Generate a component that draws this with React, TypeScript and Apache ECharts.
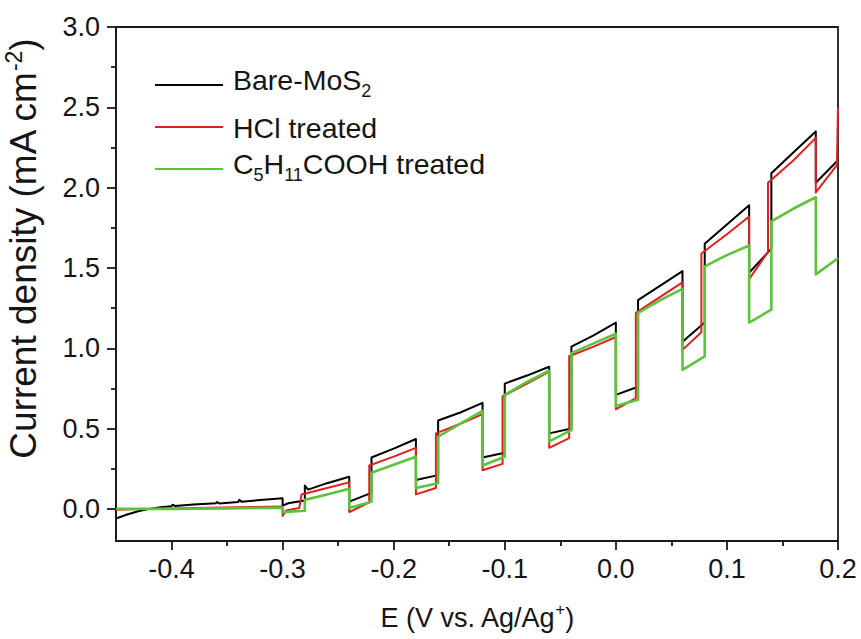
import { useEffect, useRef } from 'react';
import * as echarts from 'echarts';

// [E (V vs Ag/Ag+), current density (mA cm^-2)]
const bareMoS2: [number, number][] = [
  [-0.45, -0.06], [-0.44, -0.035], [-0.43, -0.015], [-0.42, 0.0], [-0.41, 0.01], [-0.4, 0.017],
  [-0.399, 0.026], [-0.397, 0.018], [-0.38, 0.027], [-0.36, 0.035], [-0.359, 0.043], [-0.357, 0.034],
  [-0.34, 0.043], [-0.339, 0.056], [-0.337, 0.045], [-0.32, 0.055], [-0.3, 0.066],
  [-0.3, 0.02], [-0.295, 0.035], [-0.28, 0.052],
  [-0.28, 0.145], [-0.277, 0.12], [-0.26, 0.16], [-0.24, 0.2],
  [-0.24, 0.045], [-0.22, 0.1],
  [-0.22, 0.32], [-0.2, 0.375], [-0.18, 0.435],
  [-0.18, 0.18], [-0.16, 0.21],
  [-0.16, 0.55], [-0.14, 0.6], [-0.12, 0.66],
  [-0.12, 0.32], [-0.1, 0.35],
  [-0.1, 0.78], [-0.08, 0.83], [-0.06, 0.885],
  [-0.06, 0.47], [-0.04, 0.5],
  [-0.04, 1.01], [-0.02, 1.08], [0.0, 1.16],
  [0.0, 0.71], [0.02, 0.76],
  [0.02, 1.3], [0.04, 1.39], [0.06, 1.48],
  [0.06, 1.04], [0.08, 1.16],
  [0.08, 1.65], [0.1, 1.77], [0.12, 1.89],
  [0.12, 1.47], [0.14, 1.62],
  [0.14, 2.09], [0.16, 2.22], [0.18, 2.35],
  [0.18, 2.03], [0.2, 2.17],
];

const hclTreated: [number, number][] = [
  [-0.45, -0.005], [-0.42, 0.0], [-0.38, 0.005], [-0.34, 0.01], [-0.3, 0.015],
  [-0.3, -0.045], [-0.297, -0.01], [-0.285, 0.005],
  [-0.283, 0.09], [-0.26, 0.13], [-0.24, 0.165],
  [-0.24, -0.02], [-0.222, 0.04],
  [-0.222, 0.27], [-0.2, 0.325], [-0.18, 0.38],
  [-0.18, 0.09], [-0.162, 0.13],
  [-0.162, 0.47], [-0.14, 0.53], [-0.12, 0.59],
  [-0.12, 0.24], [-0.102, 0.28],
  [-0.102, 0.7], [-0.08, 0.78], [-0.06, 0.855],
  [-0.06, 0.38], [-0.042, 0.44],
  [-0.042, 0.95], [-0.02, 1.01], [0.0, 1.07],
  [0.0, 0.62], [0.018, 0.69],
  [0.018, 1.22], [0.04, 1.32], [0.06, 1.41],
  [0.06, 0.99], [0.077, 1.1],
  [0.077, 1.59], [0.1, 1.71], [0.12, 1.82],
  [0.12, 1.43], [0.137, 1.6],
  [0.137, 2.03], [0.16, 2.17], [0.18, 2.31],
  [0.18, 1.97], [0.199, 2.14], [0.2, 2.5],
];

const c5h11coohTreated: [number, number][] = [
  [-0.45, 0.0], [-0.4, 0.0], [-0.35, 0.003], [-0.3, 0.008],
  [-0.3, -0.02], [-0.28, -0.012],
  [-0.28, 0.056], [-0.26, 0.09], [-0.24, 0.125],
  [-0.24, 0.005], [-0.22, 0.045],
  [-0.22, 0.225], [-0.2, 0.275], [-0.18, 0.325],
  [-0.18, 0.13], [-0.16, 0.16],
  [-0.16, 0.45], [-0.14, 0.53], [-0.12, 0.61],
  [-0.12, 0.27], [-0.1, 0.325],
  [-0.1, 0.71], [-0.08, 0.79], [-0.06, 0.86],
  [-0.06, 0.42], [-0.04, 0.49],
  [-0.04, 0.97], [-0.02, 1.03], [0.0, 1.09],
  [0.0, 0.64], [0.02, 0.68],
  [0.02, 1.22], [0.04, 1.3], [0.06, 1.37],
  [0.06, 0.865], [0.08, 0.95],
  [0.08, 1.51], [0.1, 1.58], [0.12, 1.64],
  [0.12, 1.16], [0.14, 1.24],
  [0.14, 1.79], [0.16, 1.87], [0.18, 1.94],
  [0.18, 1.46], [0.2, 1.56],
];

const seriesNames = ['Bare-MoS2', 'HCl treated', 'C5H11COOH treated'];
const legendLabels = [
  '{b|Bare-MoS}{s|2}',
  '{h|HCl treated}',
  '{b|C}{s|5}{b|H}{s|11}{b|COOH treated}',
];
const seriesColors = ['#000000', '#e0201e', '#5cc43c'];
const seriesWidths = [2, 2, 2.6];

const xMajor = [-0.4, -0.3, -0.2, -0.1, 0, 0.1, 0.2];
const xMinor = [-0.35, -0.25, -0.15, -0.05, 0.05, 0.15];
const yMajor = [0, 0.5, 1, 1.5, 2, 2.5, 3];
const yMinor = [0.25, 0.75, 1.25, 1.75, 2.25, 2.75];

const FONT = "'Liberation Sans', Arial, sans-serif";
const TXT = '#151515';

export default function App() {
  const ref = useRef<HTMLDivElement>(null);
  useEffect(() => {
    document.body.style.margin = '0';
    const chart = echarts.init(ref.current!, null, { renderer: 'svg' });
    const allData = [bareMoS2, hclTreated, c5h11coohTreated];
    const legendTops = [65, 113, 149];
    const legendRich = {
      b: { fontSize: 28.5, lineHeight: 30, padding: [0, 0, 6, 0], verticalAlign: 'bottom', color: TXT, fontFamily: FONT },
      h: { fontSize: 28.5, lineHeight: 30, verticalAlign: 'bottom', color: TXT, fontFamily: FONT },
      s: { fontSize: 18, lineHeight: 18, verticalAlign: 'bottom', color: TXT, fontFamily: FONT },
    };
    const xNameRich = {
      b: { fontSize: 27, lineHeight: 30, verticalAlign: 'bottom', color: TXT, fontFamily: FONT },
      p: { fontSize: 17, lineHeight: 17, padding: [0, 0, 16, 0], verticalAlign: 'top', color: TXT, fontFamily: FONT },
    };
    const yNameRich = {
      b: { fontSize: 37, lineHeight: 40, verticalAlign: 'bottom', color: TXT, fontFamily: FONT },
      p: { fontSize: 23, lineHeight: 23, padding: [0, 0, 21, 0], verticalAlign: 'top', color: TXT, fontFamily: FONT },
    };
    const axisLineStyle = { color: '#1a1a1a', width: 1.8 };
    chart.setOption({
      animation: false,
      backgroundColor: '#ffffff',
      grid: {
        left: 116, right: 23, top: 27, bottom: 98,
        outerBoundsMode: 'none',
        containLabel: false,
        show: true, borderColor: '#1a1a1a', borderWidth: 1.8, backgroundColor: 'transparent',
      },
      legend: seriesNames.map((n, i) => ({
        data: [n],
        orient: 'vertical',
        left: 155,
        top: legendTops[i],
        padding: 0,
        itemWidth: 68,
        itemHeight: 2,
        icon: 'rect',
        selectedMode: false,
        formatter: () => legendLabels[i],
        textStyle: { fontSize: 28.5, color: TXT, fontFamily: FONT, padding: [0, 0, 0, 5], rich: legendRich },
      })),
      xAxis: [
        {
          type: 'value', min: -0.45, max: 0.2,
          name: '{b|E (V vs. Ag/Ag}{p|+}{b|)}',
          nameLocation: 'middle', nameGap: 60,
          nameTextStyle: { rich: xNameRich },
          axisLine: { show: true, onZero: false, lineStyle: axisLineStyle },
          axisTick: { show: true, customValues: xMajor, length: 9, inside: false, lineStyle: axisLineStyle },
          axisLabel: {
            show: true, customValues: xMajor, margin: 14,
            formatter: (v: number) => (Math.abs(v) < 1e-9 ? '0.0' : v.toFixed(1)),
            fontSize: 27, color: TXT, fontFamily: FONT,
          },
          splitLine: { show: false },
        },
        {
          type: 'value', min: -0.45, max: 0.2, position: 'bottom',
          axisLine: { show: false, onZero: false },
          axisTick: { show: true, customValues: xMinor, length: 5, lineStyle: axisLineStyle },
          axisLabel: { show: false },
          splitLine: { show: false },
        },
      ],
      yAxis: [
        {
          type: 'value', min: -0.2, max: 3.0,
          name: '{b|Current density (mA cm}{p|-2}{b|)}',
          nameLocation: 'middle', nameGap: 74, nameRotate: 90,
          nameTextStyle: { rich: yNameRich, padding: [0, 0, 0, 70] },
          axisLine: { show: true, onZero: false, lineStyle: axisLineStyle },
          axisTick: { show: true, customValues: yMajor, length: 9, lineStyle: axisLineStyle },
          axisLabel: {
            show: true, customValues: yMajor, margin: 16,
            formatter: (v: number) => v.toFixed(1),
            fontSize: 27, color: TXT, fontFamily: FONT,
          },
          splitLine: { show: false },
        },
        {
          type: 'value', min: -0.2, max: 3.0, position: 'left',
          axisLine: { show: false, onZero: false },
          axisTick: { show: true, customValues: yMinor, length: 5, lineStyle: axisLineStyle },
          axisLabel: { show: false },
          splitLine: { show: false },
        },
      ],
      series: seriesNames.map((n, i) => ({
        name: n,
        type: 'line',
        xAxisIndex: 0,
        yAxisIndex: 0,
        data: allData[i],
        showSymbol: false,
        symbol: 'none',
        smooth: false,
        color: seriesColors[i],
        itemStyle: { color: seriesColors[i] },
        lineStyle: { color: seriesColors[i], width: seriesWidths[i], join: 'round' },
        z: 2 + i,
      })),
    });
    return () => chart.dispose();
  }, []);
  return <div ref={ref} style={{ width: 861, height: 639 }} />;
}
